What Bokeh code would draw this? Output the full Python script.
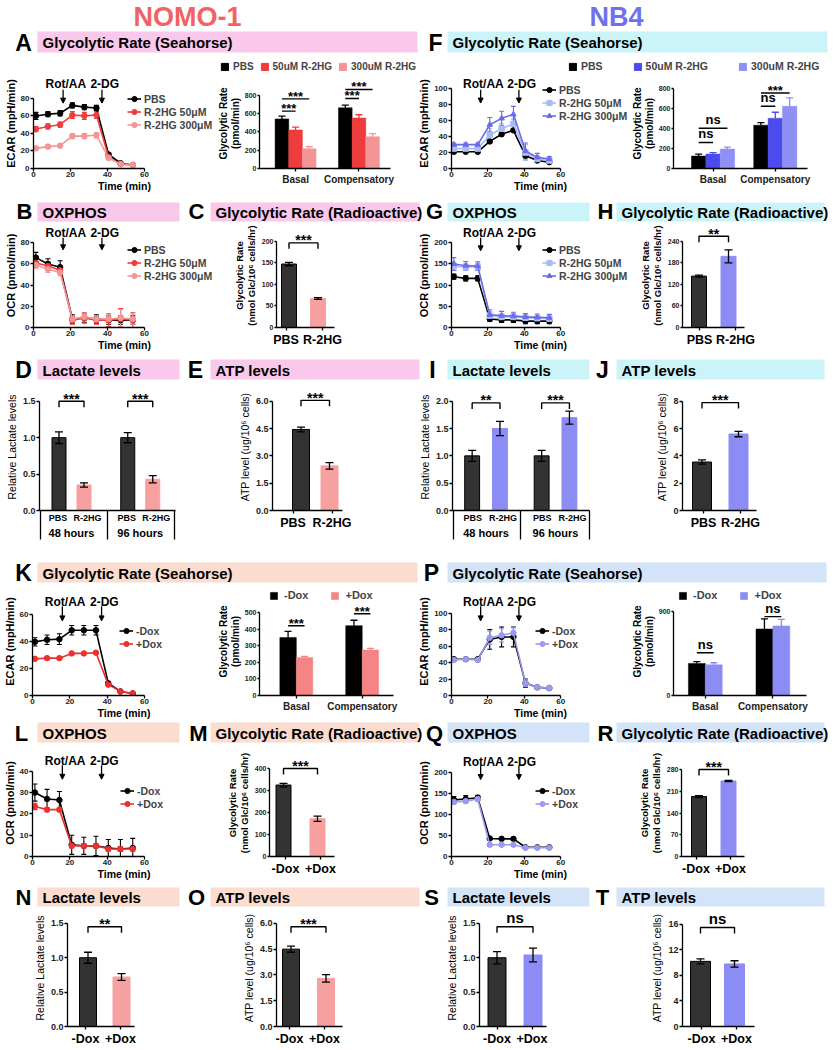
from bokeh.plotting import figure
from bokeh.models import (Range1d, FixedTicker, Legend, LegendItem, Whisker, TeeHead, Arrow,
                          NormalHead, ColumnDataSource, LinearAxis, NumeralTickFormatter)
from bokeh.layouts import column, row
from bokeh.embed import file_html
from bokeh.resources import INLINE
from bokeh.core.properties import value

# ======================= DATA =======================
t_min = [1.3, 7.8, 14.4, 21.0, 27.5, 34.0, 40.6, 47.1, 53.7]
time_ticks = [0, 20, 40, 60]
inject_t = [16, 37]
inject_lab = ["Rot/AA", "2-DG"]
line_names = ["PBS", "R-2HG 50\u03bcM", "R-2HG 300\u03bcM"]
bar_names = ["PBS", "50uM R-2HG", "300uM R-2HG"]
dox_names = ["-Dox", "+Dox"]
seahorse_cats = ["Basal", "Compensatory"]
pbs_r2hg = ["PBS", "R-2HG"]
lact_groups = ["48 hours", "96 hours"]

# A  NOMO-1 ECAR
a_pbs = [60, 62, 63, 72, 70, 69, 16, 6, 4]
a_pbs_e = [4, 3, 3, 3, 3, 3, 2, 1, 1]
a_r50 = [45, 48, 50, 61, 60, 61, 13, 5, 4]
a_r50_e = [3, 3, 3, 4, 4, 4, 2, 1, 1]
a_r300 = [23, 25, 26, 37, 37, 38, 12, 5, 4]
a_r300_e = [2, 2, 2, 3, 3, 3, 2, 1, 1]
ab_pbs = [540, 660]; ab_pbs_e = [30, 30]
ab_r50 = [420, 550]; ab_r50_e = [30, 35]
ab_r300 = [215, 345]; ab_r300_e = [22, 35]
ab_sig = [(0, 0, 1, 624, "***"), (0, 0, 2, 758, "***"), (1, 0, 1, 762, "***"), (1, 0, 2, 860, "***")]

# F  NB4 ECAR
f_pbs = [21, 21, 21, 34, 43, 48, 16, 10, 8]
f_pbs_e = [1, 1, 1, 2, 2, 2, 2, 2, 1]
f_r50 = [25, 25, 25, 42, 50, 56, 20, 12, 10]
f_r50_e = [3, 3, 3, 8, 6, 6, 10, 4, 4]
f_r300 = [30, 30, 30, 55, 63, 68, 22, 14, 12]
f_r300_e = [2, 2, 2, 9, 9, 10, 10, 5, 3]
fb_pbs = [125, 435]; fb_pbs_e = [20, 25]
fb_r50 = [145, 505]; fb_r50_e = [15, 60]
fb_r300 = [195, 625]; fb_r300_e = [20, 85]
fb_sig = [(0, 0, 1, 262, "ns"), (0, 0, 2, 404, "ns"), (1, 0, 1, 626, "ns"), (1, 0, 2, 759, "***")]

# B  NOMO-1 OCR
b_pbs = [66, 60, 57, 8, 9, 8, 7, 7, 7]
b_pbs_e = [5, 5, 6, 4, 4, 4, 4, 4, 4]
b_r50 = [61, 58, 54, 7, 9, 7, 7, 8, 7]
b_r50_e = [4, 4, 3, 4, 5, 4, 6, 10, 7]
b_r300 = [59, 55, 52, 8, 10, 8, 8, 9, 8]
b_r300_e = [3, 3, 3, 3, 3, 3, 3, 8, 5]
c_vals = [147, 67]; c_err = [4, 2]; c_sig = (196, "***")

# G  NB4 OCR
g_pbs = [120, 116, 116, 20, 18, 18, 15, 15, 15]
g_pbs_e = [6, 6, 6, 6, 6, 6, 6, 6, 6]
g_r50 = [145, 143, 143, 28, 25, 25, 23, 22, 21]
g_r50_e = [10, 8, 8, 10, 8, 8, 7, 7, 6]
g_r300 = [150, 146, 145, 30, 28, 27, 25, 24, 23]
g_r300_e = [15, 10, 10, 12, 10, 9, 8, 8, 8]
h_vals = [143, 198]; h_err = [3, 18]; h_sig = (254, "**")

# D / E / I / J
d_vals = [1.0, 0.35, 1.0, 0.43]; d_err = [0.08, 0.03, 0.07, 0.05]
d_sig = [(0, 1, 1.5, "***"), (2, 3, 1.5, "***")]
e_vals = [4.45, 2.45]; e_err = [0.13, 0.18]; e_sig = (6.05, "***")
i_vals = [1.0, 1.5, 1.0, 1.7]; i_err = [0.1, 0.13, 0.1, 0.12]
i_sig = [(0, 1, 1.97, "**"), (2, 3, 1.97, "***")]
j_vals = [3.55, 5.6]; j_err = [0.15, 0.2]; j_sig = (7.9, "***")

# K  NOMO-1 Dox ECAR
k_m = [39.5, 41, 41.5, 48, 48, 48, 9, 3, 1.5]
k_m_e = [3, 3.5, 4, 3.5, 3.5, 3.5, 1, 0.5, 0.5]
k_p = [27, 27.5, 27.5, 31, 31, 31.5, 8, 3, 1.5]
k_p_e = [0.7, 0.7, 0.7, 0.7, 0.7, 0.7, 0.7, 0.5, 0.5]
kb_m = [350, 422]; kb_m_e = [38, 33]
kb_p = [230, 275]; kb_p_e = [6, 10]
kb_sig = [(0, 0, 1, 422, "***"), (1, 0, 1, 494, "***")]

# P  NB4 Dox ECAR
p_m = [44, 44, 44, 68, 71, 71, 15, 10, 9]
p_m_e = [1.5, 1, 1, 12, 12, 12, 5, 2, 1]
p_p = [43, 44, 43, 70, 73, 76, 15, 10, 9]
p_p_e = [1, 1, 1, 8, 8, 6, 4, 2, 1]
pb_m = [345, 715]; pb_m_e = [20, 110]
pb_p = [330, 748]; pb_p_e = [22, 70]
pb_sig = [(0, 0, 1, 460, "ns"), (1, 0, 1, 848, "ns")]

# L  NOMO-1 Dox OCR
l_m = [30, 27, 26.5, 5.5, 5, 5, 4, 3.5, 4]
l_m_e = [4, 4.5, 4, 4.5, 4, 4.5, 4, 4.5, 4.5]
l_p = [23.5, 22, 22, 5, 5, 5, 3.5, 3.5, 3.5]
l_p_e = [1.5, 1, 1, 1, 1, 1, 1, 1, 1]
m_vals = [325, 172]; m_err = [8, 12]; m_sig = (400, "***")

# Q  NB4 Dox OCR
q_m = [135, 137, 140, 43, 42, 42, 22, 22, 22]
q_m_e = [8, 8, 6, 3, 3, 3, 2, 2, 2]
q_p = [130, 132, 137, 28, 28, 28, 21, 21, 21]
q_p_e = [5, 5, 5, 2, 2, 2, 2, 2, 2]
r_vals = [193, 243]; r_err = [3, 2]; r_sig = (280, "***")

# N / O / S / T
n_vals = [1.0, 0.72]; n_err = [0.08, 0.05]; n_sig = (1.45, "**")
o_vals = [4.5, 2.8]; o_err = [0.18, 0.22]; o_sig = (5.8, "***")
s_vals = [1.0, 1.04]; s_err = [0.09, 0.1]; s_sig = (1.45, "ns")
t_vals = [10.2, 9.8]; t_err = [0.4, 0.5]; t_sig = (15.5, "ns")

# ======================= STYLE =======================
FONT = "Liberation Sans"
BLACK = "#000000"; DARK = "#333333"
N_RED = "#EE3B3B"; N_LRED = "#F49595"; N_BAR2 = "#F7A0A0"
B_BLUE = "#4B4BEF"; B_LBLUE = "#8F8FF5"; B_L50 = "#A9BDF2"; B_L300 = "#6C6CEA"; B_BAR2 = "#8C8CF5"
K_RED = "#EE3030"; K_BAR2 = "#F58585"; P_LINE = "#9A9AF2"
PINK = "#F9C8EA"; CYAN = "#CBF4F9"; PEACH = "#FBDCCF"; LBLUE = "#D4E4F8"

OX, OY = 1.0, 1.0


def PX(x):
    return int(round(x - OX))


def PY(y):
    return int(round(y - OY))


def lin(p, m):
    pa, va, pb, vb = m
    return va + (p - pa) * (vb - va) / (pb - pa)


def inv(v, m):
    return lin(v, (m[1], m[0], m[3], m[2]))


def kf(v):
    return int(v) if float(v).is_integer() else float(v)


def txt(p, xs, ys, texts, size, bold=True, align="center", baseline="middle", color="black"):
    p.text(x=xs, y=ys, text=texts, text_font=value(FONT), text_font_size=size,
           text_font_style="bold" if bold else "normal", text_align=align,
           text_baseline=baseline, text_color=color)


def sig_text(p, x, h, label, font, ppy):
    if label == "ns":
        txt(p, [x], [h + 1.0 / ppy], [label], font, baseline="bottom")
    else:
        txt(p, [x], [h + 2.5 / ppy], [label], font, baseline="middle")


def base_fig(box, frame, xmap, ymap):
    x0, y0, x1, y1 = box
    fx0, fy0, fx1, fy1 = frame
    p = figure(width=PX(x1) - PX(x0), height=PY(y1) - PY(y0),
               x_range=Range1d(lin(fx0, xmap), lin(fx1, xmap)),
               y_range=Range1d(lin(fy1, ymap), lin(fy0, ymap)),
               toolbar_location=None, output_backend="svg",
               min_border_left=PX(fx0) - PX(x0), min_border_right=PX(x1) - PX(fx1),
               min_border_top=PY(fy0) - PY(y0), min_border_bottom=PY(y1) - PY(fy1))
    p.grid.visible = False
    p.outline_line_color = None
    for ax in p.axis:
        ax.axis_line_width = 1.3
        ax.axis_line_color = "black"
        ax.major_tick_line_width = 1.3
        ax.major_tick_line_color = "black"
        ax.major_tick_in = 0
        ax.major_tick_out = 3
        ax.minor_tick_line_color = None
        ax.minor_tick_in = 0
        ax.minor_tick_out = 0
        ax.major_label_text_font = FONT
        ax.major_label_text_font_style = "bold"
        ax.major_label_text_font_size = "8px"
        ax.major_label_text_color = "#222222"
        ax.major_label_standoff = 1
        ax.axis_label_text_font = FONT
        ax.axis_label_text_font_style = "bold"
        ax.axis_label_text_font_size = "11px"
        ax.axis_label_standoff = 2
        ax.axis_label_text_color = "black"
    return p


def line_panel(box, frame, xmap, ymap, ymax, ystep, ylabel, series, leg_xy, arr):
    p = base_fig(box, frame, xmap, ymap)
    p.xaxis.bounds = (0, 60)
    p.xaxis.ticker = FixedTicker(ticks=time_ticks)
    p.yaxis.bounds = (0, ymax)
    p.yaxis.ticker = FixedTicker(ticks=list(range(0, ymax + 1, ystep)))
    p.xaxis.axis_label = "Time (min)"
    p.yaxis.axis_label = ylabel
    p.xaxis.axis_label_standoff = 0
    p.xaxis.major_label_standoff = 0
    p.xaxis.axis_label_text_font_size = "10.5px"
    p.yaxis.axis_label_standoff = 1
    items = []
    for name, ys, es, color, marker in series:
        src = ColumnDataSource(dict(x=t_min, y=ys,
                                    lo=[a - b for a, b in zip(ys, es)],
                                    hi=[a + b for a, b in zip(ys, es)]))
        p.add_layout(Whisker(source=src, base="x", lower="lo", upper="hi",
                             line_color=color, line_width=1.1,
                             upper_head=TeeHead(size=5, line_color=color, line_width=1.1),
                             lower_head=TeeHead(size=5, line_color=color, line_width=1.1)))
        r1 = p.line("x", "y", source=src, line_color=color, line_width=1.6)
        r2 = p.scatter("x", "y", source=src, marker=marker, size=5.5,
                       fill_color=color, line_color=color)
        items.append(LegendItem(label=value(name), renderers=[r1, r2]))
    top_px = inv(ymax, ymap)
    t_off, a0, a1 = arr
    for tx in inject_t:
        p.add_layout(Arrow(end=NormalHead(size=5, fill_color="black", line_color="black", line_width=1),
                           x_start=tx, y_start=lin(top_px + a0, ymap),
                           x_end=tx, y_end=lin(top_px + a1, ymap),
                           line_color="black", line_width=1.3))
    txt(p, [t + 1.5 for t in inject_t], [lin(top_px + t_off, ymap)] * len(inject_t),
        inject_lab, "12px")
    pitch = 13
    h = pitch * len(items)
    loc = (PX(leg_xy[0]) - PX(frame[0]), PY(frame[3]) - PY(leg_xy[1]) - h)
    leg = Legend(items=items, location=loc, orientation="vertical",
                 label_text_font=FONT, label_text_font_style="bold",
                 label_text_font_size="10.5px", glyph_width=14, glyph_height=pitch,
                 label_height=pitch, spacing=0, padding=0, margin=0, label_standoff=3,
                 border_line_color=None, background_fill_alpha=0)
    p.add_layout(leg)
    return p


def sig_bracket(p, xa, xb, h, label, drop_px, ppy, font="14px"):
    d = drop_px / ppy
    p.line([xa, xa, xb, xb], [h - d, h, h, h - d], line_color="black", line_width=1.4)
    sig_text(p, (xa + xb) / 2, h, label, font, ppy)


def group_bar_panel(box, frame, xmap, ymap, yticks, xb_px, series, bar_px, sigs,
                    leg_xy=None, leg_sp=10):
    p = base_fig(box, frame, xmap, ymap)
    ppx = (xmap[2] - xmap[0]) / (xmap[3] - xmap[1])
    ppy = (ymap[0] - ymap[2]) / (ymap[3] - ymap[1])
    bw = bar_px / ppx
    n = len(series)
    p.yaxis.bounds = (0, yticks[-1])
    p.yaxis.ticker = FixedTicker(ticks=yticks)
    p.xaxis.bounds = (lin(xb_px[0], xmap), lin(xb_px[1], xmap))
    p.xaxis.ticker = FixedTicker(ticks=list(range(len(seahorse_cats))))
    p.xaxis.major_label_overrides = {i: c for i, c in enumerate(seahorse_cats)}
    p.xaxis.major_label_text_font_size = "10px"
    p.xaxis.major_label_standoff = 2
    p.yaxis.major_label_text_font_size = "7px"
    p.yaxis.major_tick_out = 2
    p.yaxis.axis_label = "Glycolytic Rate\n(pmol/min)"
    p.yaxis.axis_label_text_font_size = "10px"
    p.yaxis.axis_label_text_line_height = 1.05
    p.yaxis.axis_label_standoff = 1
    offs = [(i - (n - 1) / 2) * bw for i in range(n)]
    items = []
    for i, (name, vals, errs, color) in enumerate(series):
        xs = [c + offs[i] for c in range(len(vals))]
        src = ColumnDataSource(dict(x=xs, top=vals, hi=[v + e for v, e in zip(vals, errs)]))
        r = p.vbar(x="x", top="top", bottom=0, width=bw, source=src,
                   fill_color=color, line_color=color, line_width=0.5)
        p.add_layout(Whisker(source=src, base="x", lower="top", upper="hi", level="annotation",
                             line_color=color, line_width=1.3, lower_head=None,
                             upper_head=TeeHead(size=7, line_color=color, line_width=1.3)))
        items.append(LegendItem(label=value(name), renderers=[r]))
    for c, ia, ib, h, label in sigs:
        xa, xb = c + offs[ia], c + offs[ib]
        p.line([xa, xb], [h, h], line_color="black", line_width=1.4)
        sig_text(p, (xa + xb) / 2, h, label, "13px", ppy)
    if leg_xy is not None:
        hh = 12
        loc = (PX(leg_xy[0]) - PX(frame[0]), PY(frame[3]) - PY(leg_xy[1]) - hh)
        p.add_layout(Legend(items=items, location=loc, orientation="horizontal",
                            label_text_font=FONT, label_text_font_style="bold",
                            label_text_font_size="11px", glyph_width=9, glyph_height=9,
                            label_height=hh, spacing=leg_sp, padding=0, margin=0,
                            label_standoff=6, border_line_color=None,
                            background_fill_alpha=0))
    return p


def simple_bar_panel(box, frame, xmap, ymap, yticks, xb_px, labels, lab_dx, vals, errs,
                     colors, bar_px, sig, ylabel, kind):
    p = base_fig(box, frame, xmap, ymap)
    ppx = (xmap[2] - xmap[0]) / (xmap[3] - xmap[1])
    ppy = (ymap[0] - ymap[2]) / (ymap[3] - ymap[1])
    bw = bar_px / ppx
    xs = list(range(len(vals)))
    tick_pos = [x + d / ppx for x, d in zip(xs, lab_dx)]
    p.yaxis.bounds = (0, yticks[-1])
    p.yaxis.ticker = FixedTicker(ticks=yticks)
    p.xaxis.bounds = (lin(xb_px[0], xmap), lin(xb_px[1], xmap))
    p.xaxis.ticker = FixedTicker(ticks=tick_pos)
    p.xaxis.major_label_overrides = {kf(t): c for t, c in zip(tick_pos, labels)}
    p.xaxis.major_label_text_font_size = "12.5px"
    p.xaxis.major_label_text_color = "black"
    p.xaxis.major_label_standoff = 2
    p.yaxis.axis_label = ylabel
    if kind == "rate":
        p.yaxis.major_label_text_font_size = "7px"
        p.yaxis.major_tick_out = 2
        p.yaxis.axis_label_text_font_size = "9.5px"
        p.yaxis.axis_label_text_line_height = 1.05
    else:
        p.yaxis.major_label_text_font_size = "9px"
        p.yaxis.axis_label_text_font_style = "normal"
        p.yaxis.axis_label_text_font_size = "10.5px"
        if any(not float(v).is_integer() for v in yticks):
            p.yaxis.formatter = NumeralTickFormatter(format="0.0")
    lines = ["black" if c == DARK else c for c in colors]
    src = ColumnDataSource(dict(x=xs, top=vals, color=colors, lc=lines,
                                lo=[v - e for v, e in zip(vals, errs)],
                                hi=[v + e for v, e in zip(vals, errs)]))
    p.vbar(x="x", top="top", bottom=0, width=bw, source=src, fill_color="color",
           line_color="lc", line_width=1)
    p.add_layout(Whisker(source=src, base="x", lower="lo", upper="hi", level="annotation",
                         line_color="black", line_width=1.3,
                         upper_head=TeeHead(size=8, line_color="black", line_width=1.3),
                         lower_head=TeeHead(size=8, line_color="black", line_width=1.3)))
    h, label = sig
    sig_bracket(p, xs[0], xs[1], h, label, 6, ppy, "15px" if label == "ns" else "14px")
    return p


def lactate_panel(box, frame, xmap, ymap, yticks, xpos, lab_dx, vals, errs, colors, bar_px,
                  sigs, sep_px, xb_px):
    p = base_fig(box, frame, xmap, ymap)
    ppx = (xmap[2] - xmap[0]) / (xmap[3] - xmap[1])
    ppy = (ymap[0] - ymap[2]) / (ymap[3] - ymap[1])
    bw = bar_px / ppx
    p.yaxis.bounds = (0, yticks[-1])
    p.yaxis.ticker = FixedTicker(ticks=yticks)
    p.yaxis.formatter = NumeralTickFormatter(format="0.0")
    p.yaxis.major_label_text_font_size = "9px"
    p.yaxis.axis_label = "Relative Lactate levels"
    p.yaxis.axis_label_text_font_style = "normal"
    p.yaxis.axis_label_text_font_size = "10.5px"
    seps = [lin(s, xmap) for s in sep_px]
    tick_pos = [x + lab_dx[i % 2] / ppx for i, x in enumerate(xpos)]
    p.xaxis.bounds = (lin(xb_px[0], xmap), lin(xb_px[1], xmap))
    p.xaxis.ticker = FixedTicker(ticks=tick_pos, minor_ticks=seps)
    p.xaxis.major_label_overrides = {kf(x): pbs_r2hg[i % 2] for i, x in enumerate(tick_pos)}
    p.xaxis.major_label_text_font_size = "9px"
    p.xaxis.major_label_text_color = "black"
    p.xaxis.major_tick_out = 0
    p.xaxis.minor_tick_line_color = "black"
    p.xaxis.minor_tick_line_width = 1.3
    p.xaxis.minor_tick_in = 0
    p.xaxis.minor_tick_out = 29
    p.xaxis.major_label_standoff = -27
    gpos = [(xpos[0] + xpos[1]) / 2, (xpos[2] + xpos[3]) / 2]
    ax2 = LinearAxis(ticker=FixedTicker(ticks=gpos),
                     major_label_overrides={kf(g): lact_groups[i] for i, g in enumerate(gpos)},
                     axis_line_color=None, major_tick_line_color=None,
                     minor_tick_line_color=None, major_tick_in=0, major_tick_out=0,
                     minor_tick_in=0, minor_tick_out=0, major_label_standoff=1,
                     major_label_text_font=FONT, major_label_text_font_style="bold",
                     major_label_text_font_size="11px", major_label_text_color="black")
    p.add_layout(ax2, "below")
    lines = ["black" if c == DARK else c for c in colors]
    src = ColumnDataSource(dict(x=xpos, top=vals, color=colors, lc=lines,
                                lo=[v - e for v, e in zip(vals, errs)],
                                hi=[v + e for v, e in zip(vals, errs)]))
    p.vbar(x="x", top="top", bottom=0, width=bw, source=src, fill_color="color",
           line_color="lc", line_width=1)
    p.add_layout(Whisker(source=src, base="x", lower="lo", upper="hi", level="annotation",
                         line_color="black", line_width=1.3,
                         upper_head=TeeHead(size=8, line_color="black", line_width=1.3),
                         lower_head=TeeHead(size=8, line_color="black", line_width=1.3)))
    for ia, ib, h, label in sigs:
        sig_bracket(p, xpos[ia], xpos[ib], h, label, 6, ppy)
    return p


def header_strip(y0, y1, band_y, bands, titles=(), legends=(), letter_size="23px", letter_dy=0.5):
    W = PX(839) - PX(OX)
    H = PY(y1) - PY(y0)
    p = figure(width=W, height=H, x_range=Range1d(OX, OX + W),
               y_range=Range1d(y0 + H, y0), x_axis_type=None, y_axis_type=None,
               toolbar_location=None, output_backend="svg", min_border=0)
    p.grid.visible = False
    p.outline_line_color = None
    by0, by1 = band_y
    for letter, lx, bx0, bx1, label, color in bands:
        p.quad(left=bx0, right=bx1, top=by0, bottom=by1, fill_color=color, line_color=None)
        txt(p, [lx], [(by0 + by1) / 2 + letter_dy], [letter], letter_size)
        txt(p, [bx0 + 5], [(by0 + by1) / 2 + 0.5], [label], "15px", align="left")
    for label, tx, ty, color in titles:
        txt(p, [tx], [ty], [label], "27px", color=color)
    for entries, (lx, ly), font, sp in legends:
        items = []
        for name, vals, color in entries:
            r = p.vbar(x=list(range(len(vals))), top=vals, width=0.5, fill_color=color,
                       line_color=color, visible=False)
            items.append(LegendItem(label=value(name), renderers=[r]))
        hh = 12
        loc = (PX(lx) - PX(OX), PY(y1) - PY(ly) - hh)
        p.add_layout(Legend(items=items, location=loc, orientation="horizontal",
                            label_text_font=FONT, label_text_font_style="bold",
                            label_text_font_size=font, glyph_width=9, glyph_height=9,
                            label_height=hh, spacing=sp, padding=0, margin=0,
                            label_standoff=4, border_line_color=None,
                            background_fill_alpha=0, inactive_fill_alpha=0))
    return p


GR_S = "Glycolytic Rate (Seahorse)"
GR_R = "Glycolytic Rate (Radioactive)"
RATE_LAB = "Glycolytic Rate\n(nmol Glc/10\u2076 cells/hr)"
ATP_LAB = "ATP level (ug/10\u2076 cells)"

# ---------- strip 0: titles, A/F headers, seahorse bar legends ----------
s0 = header_strip(1, 74, (32, 53),
                  [("A", 24, 38, 418, GR_S, PINK), ("F", 436, 448, 828, GR_S, CYAN)],
                  [("NOMO-1", 188, 17, "#F26262"), ("NB4", 617, 17, "#7070EE")],
                  [([(bar_names[0], ab_pbs, BLACK), (bar_names[1], ab_r50, N_RED),
                     (bar_names[2], ab_r300, N_LRED)], (221, 61), "10px", 6),
                   ([(bar_names[0], fb_pbs, BLACK), (bar_names[1], fb_r50, B_BLUE),
                     (bar_names[2], fb_r300, B_LBLUE)], (569, 61), "10.5px", 30)])

# ---------- strip 1 ----------
pA = line_panel((1, 74, 216, 196), (34, 74, 216, 169), (34, 0, 145, 60), (169, 0, 95, 80),
                80, 20, "ECAR (mpH/min)",
                [(line_names[0], a_pbs, a_pbs_e, BLACK, "circle"),
                 (line_names[1], a_r50, a_r50_e, N_RED, "circle"),
                 (line_names[2], a_r300, a_r300_e, N_LRED, "circle")],
                (128, 93.5), (-15, -9, 5))
pAb = group_bar_panel((216, 74, 416, 196), (256, 79, 416, 169), (293, 0, 358, 1),
                      (169, 0, 95.5, 800), [0, 200, 400, 600, 800], (256, 390),
                      [(bar_names[0], ab_pbs, ab_pbs_e, BLACK),
                       (bar_names[1], ab_r50, ab_r50_e, N_RED),
                       (bar_names[2], ab_r300, ab_r300_e, N_LRED)],
                      14, ab_sig)
pF = line_panel((416, 74, 630, 196), (446, 74, 630, 169.3), (446, 0, 559, 60), (169.3, 0, 85, 100),
                100, 20, "ECAR (mpH/min)",
                [(line_names[0], f_pbs, f_pbs_e, BLACK, "circle"),
                 (line_names[1], f_r50, f_r50_e, B_L50, "square"),
                 (line_names[2], f_r300, f_r300_e, B_L300, "triangle")],
                (537, 84), (-5, 1, 15))
pFb = group_bar_panel((630, 74, 839, 196), (666.7, 74, 839, 169.3), (708, 0, 773, 1),
                      (169.3, 0, 85, 800), [0, 200, 400, 600, 800], (666.7, 807),
                      [(bar_names[0], fb_pbs, fb_pbs_e, BLACK),
                       (bar_names[1], fb_r50, fb_r50_e, B_BLUE),
                       (bar_names[2], fb_r300, fb_r300_e, B_LBLUE)],
                      15, fb_sig)

# ---------- strip 2 ----------
s2 = header_strip(196, 224, (203, 222),
                  [("B", 25, 38, 180, "OXPHOS", PINK), ("C", 197, 211, 420, GR_R, PINK),
                   ("G", 435, 448, 590, "OXPHOS", CYAN), ("H", 606, 617, 825, GR_R, CYAN)],
                  letter_size="22px", letter_dy=-0.5)

# ---------- strip 3 ----------
pB = line_panel((1, 224, 216, 356), (34, 224, 216, 328), (34, 0, 145, 60), (328, 0, 243.3, 80),
                80, 20, "OCR (pmol/min)",
                [(line_names[0], b_pbs, b_pbs_e, BLACK, "circle"),
                 (line_names[1], b_r50, b_r50_e, N_RED, "circle"),
                 (line_names[2], b_r300, b_r300_e, N_LRED, "circle")],
                (128, 244), (-10, -5, 7))
pC = simple_bar_panel((216, 224, 416, 356), (277, 224, 416, 328.3), (289.5, 0, 318.5, 1),
                      (328.3, 0, 241.7, 200), [0, 50, 100, 150, 200], (277, 335),
                      pbs_r2hg, (-3, 4.5), c_vals, c_err, [DARK, N_BAR2], 15, c_sig,
                      RATE_LAB, "rate")
pG = line_panel((416, 224, 630, 356), (446, 224, 630, 328), (446, 0, 559, 60), (328, 0, 243.3, 200),
                200, 50, "OCR (pmol/min)",
                [(line_names[0], g_pbs, g_pbs_e, BLACK, "circle"),
                 (line_names[1], g_r50, g_r50_e, B_L50, "square"),
                 (line_names[2], g_r300, g_r300_e, B_L300, "triangle")],
                (537, 244), (-10, -5, 8))
pH = simple_bar_panel((630, 224, 839, 356), (683, 224, 839, 327.7), (699.5, 0, 729, 1),
                      (327.7, 0, 241.7, 240), [0, 60, 120, 180, 240], (683, 745),
                      pbs_r2hg, (0.5, 7), h_vals, h_err, [DARK, B_BAR2], 15, h_sig,
                      RATE_LAB, "rate")

# ---------- strip 4 ----------
s4 = header_strip(356, 384, (360, 380),
                  [("D", 24, 38, 180, "Lactate levels", PINK), ("E", 196, 211, 420, "ATP levels", PINK),
                   ("I", 433, 448, 590, "Lactate levels", CYAN), ("J", 603, 617, 825, "ATP levels", CYAN)])

# ---------- strip 5 ----------
pD = lactate_panel((1, 384, 216, 545), (40, 384, 216, 510.7), (59.5, 0, 84.5, 1),
                   (510.7, 0, 401.7, 1.5), [0, 0.5, 1.0, 1.5], [0, 1, 2.75, 3.75], (-1, 3.5),
                   d_vals, d_err, [DARK, N_BAR2, DARK, N_BAR2], 14, d_sig,
                   (40.6, 108, 175.4), (40, 176))
pE = simple_bar_panel((216, 384, 416, 545), (273, 384, 416, 510.7), (301.5, 0, 330, 1),
                      (510.7, 0, 401.7, 6), [0, 1.5, 3.0, 4.5, 6.0], (273, 343),
                      pbs_r2hg, (-8, 2.5), e_vals, e_err, [DARK, N_BAR2], 17, e_sig,
                      ATP_LAB, "level")
pI = lactate_panel((416, 384, 630, 545), (451.7, 384, 630, 510.7), (471.5, 0, 499.5, 1),
                   (510.7, 0, 401.7, 2.0), [0, 0.5, 1.0, 1.5, 2.0], [0, 1, 2.5, 3.5], (0.5, 3),
                   i_vals, i_err, [DARK, B_BAR2, DARK, B_BAR2], 15, i_sig,
                   (452.3, 520, 589.4), (451.7, 590))
pJ = simple_bar_panel((630, 384, 839, 545), (683, 384, 839, 510.7), (702.5, 0, 739, 1),
                      (510.7, 0, 401.7, 8), [0, 2, 4, 6, 8], (683, 757),
                      pbs_r2hg, (1.5, 2), j_vals, j_err, [DARK, B_BAR2], 19, j_sig,
                      ATP_LAB, "level")

# ---------- strip 6 ----------
s6 = header_strip(545, 588, (563, 583),
                  [("K", 24, 38, 418, GR_S, PEACH), ("P", 432, 448, 827, GR_S, LBLUE)])

# ---------- strip 7 ----------
pK = line_panel((1, 588, 216, 722), (33, 588, 216, 698), (33, 0, 145, 60), (698, 0, 615, 60),
                60, 20, "ECAR (mpH/min)",
                [(dox_names[0], k_m, k_m_e, BLACK, "circle"),
                 (dox_names[1], k_p, k_p_e, K_RED, "circle")],
                (120, 626.5), (-12, -8, 7))
pKb = group_bar_panel((216, 588, 416, 722), (255, 588, 416, 699), (293, 0, 361, 1),
                      (699, 0, 614, 500), [0, 100, 200, 300, 400, 500], (255, 393),
                      [(dox_names[0], kb_m, kb_m_e, BLACK), (dox_names[1], kb_p, kb_p_e, K_BAR2)],
                      17, kb_sig, (265, 593), 22)
pP = line_panel((416, 588, 630, 722), (446, 588, 630, 698), (446, 0, 559, 60), (698, 0, 614, 100),
                100, 20, "ECAR (mpH/min)",
                [(dox_names[0], p_m, p_m_e, BLACK, "circle"),
                 (dox_names[1], p_p, p_p_e, P_LINE, "circle")],
                (530, 626.5), (-11, -7, 8))
pPb = group_bar_panel((630, 588, 839, 722), (673, 588, 839, 699), (705, 0, 773, 1),
                      (699, 0, 613, 900), [0, 900], (673, 807),
                      [(dox_names[0], pb_m, pb_m_e, BLACK), (dox_names[1], pb_p, pb_p_e, B_BAR2)],
                      17, pb_sig, (678, 593), 22)

# ---------- strip 8 ----------
s8 = header_strip(722, 750, (723, 743),
                  [("L", 22, 38, 180, "OXPHOS", PEACH), ("M", 199, 211, 420, GR_R, PEACH),
                   ("Q", 435, 448, 590, "OXPHOS", LBLUE), ("R", 606, 617, 825, GR_R, LBLUE)],
                  letter_size="22px", letter_dy=1.0)

# ---------- strip 9 ----------
pL = line_panel((1, 750, 216, 885), (33, 750, 216, 856.7), (33, 0, 145, 60), (856.7, 0, 771.7, 40),
                40, 10, "OCR (pmol/min)",
                [(dox_names[0], l_m, l_m_e, BLACK, "circle"),
                 (dox_names[1], l_p, l_p_e, K_RED, "circle")],
                (121, 784.5), (-10, -6, 8))
pM = simple_bar_panel((216, 750, 416, 885), (270, 750, 416, 856.7), (284, 0, 318, 1),
                      (856.7, 0, 769, 400), [0, 100, 200, 300, 400], (270, 335),
                      dox_names, (2, 3), m_vals, m_err, [DARK, N_BAR2], 15, m_sig,
                      RATE_LAB, "rate")
pQ = line_panel((416, 750, 630, 885), (446, 750, 630, 856.7), (446, 0, 559, 60), (856.7, 0, 773, 200),
                200, 50, "OCR (pmol/min)",
                [(dox_names[0], q_m, q_m_e, BLACK, "circle"),
                 (dox_names[1], q_p, q_p_e, P_LINE, "circle")],
                (530, 784.5), (-11, -7, 7))
pR = simple_bar_panel((630, 750, 839, 885), (682, 750, 839, 856.7), (699.5, 0, 729, 1),
                      (856.7, 0, 770, 280), [0, 70, 140, 210, 280], (682, 745),
                      dox_names, (-3, 2), r_vals, r_err, [DARK, B_BAR2], 15, r_sig,
                      RATE_LAB, "rate")

# ---------- strip 10 ----------
s10 = header_strip(885, 910, (888, 907),
                   [("N", 24, 38, 180, "Lactate levels", PEACH), ("O", 197, 211, 420, "ATP levels", PEACH),
                    ("S", 432, 448, 590, "Lactate levels", LBLUE), ("T", 603, 617, 825, "ATP levels", LBLUE)],
                   letter_size="22px", letter_dy=0.0)

# ---------- strip 11 ----------
pN = simple_bar_panel((1, 910, 216, 1049), (68, 910, 216, 1028.3), (88.5, 0, 122, 1),
                      (1028.3, 0, 924, 1.5), [0, 0.5, 1.0, 1.5], (68, 135),
                      dox_names, (-2.5, -1), n_vals, n_err, [DARK, N_BAR2], 17, n_sig,
                      "Relative Lactate levels", "level")
pO = simple_bar_panel((216, 910, 416, 1049), (277, 910, 416, 1028.3), (291.5, 0, 326.5, 1),
                      (1028.3, 0, 924, 6), [0, 1.5, 3.0, 4.5, 6.0], (277, 343),
                      dox_names, (-1.5, -1.5), o_vals, o_err, [DARK, N_BAR2], 17, o_sig,
                      ATP_LAB, "level")
pS = simple_bar_panel((416, 910, 630, 1049), (480, 910, 630, 1028.3), (497.5, 0, 533.5, 1),
                      (1028.3, 0, 924, 1.5), [0, 0.5, 1.0, 1.5], (480, 547),
                      dox_names, (0, -1), s_vals, s_err, [DARK, B_BAR2], 18, s_sig,
                      "Relative Lactate levels", "level")
pT = simple_bar_panel((630, 910, 839, 1049), (683, 910, 839, 1028.3), (701, 0, 735, 1),
                      (1028.3, 0, 925, 16), [0, 4, 8, 12, 16], (683, 755),
                      dox_names, (1, 2), t_vals, t_err, [DARK, B_BAR2], 20, t_sig,
                      ATP_LAB, "level")

layout = column([
    s0,
    row([pA, pAb, pF, pFb]),
    s2,
    row([pB, pC, pG, pH]),
    s4,
    row([pD, pE, pI, pJ]),
    s6,
    row([pK, pKb, pP, pPb]),
    s8,
    row([pL, pM, pQ, pR]),
    s10,
    row([pN, pO, pS, pT]),
])

open("out.html", "w").write(file_html(layout, INLINE))
